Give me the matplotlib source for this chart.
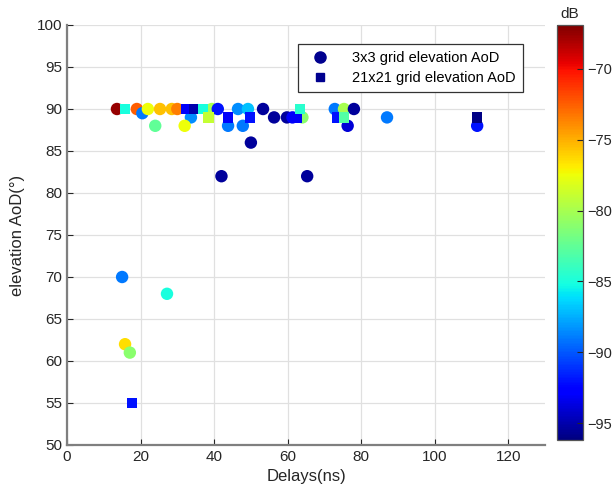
import matplotlib
matplotlib.use('Agg')
import matplotlib.pyplot as plt
from matplotlib.lines import Line2D

plt.rcParams['font.family'] = ['Liberation Sans', 'DejaVu Sans']
plt.rcParams['font.size'] = 11

# 3x3 grid elevation AoD (circles): delay (ns), elevation (deg), power (dB)
circle_x = [13.6, 19.0, 20.5, 22.0, 25.3, 28.5, 30.0, 33.7, 32.0, 24.0,
            39.4, 41.0, 43.8, 46.5, 49.2, 47.8, 53.3, 56.3, 59.8, 61.3,
            64.0, 42.0, 50.0, 65.3, 72.8, 75.3, 78.0, 76.3, 87.0, 111.5,
            15.0, 27.2, 15.8, 17.1]
circle_y = [90, 90, 89.5, 90, 90, 90, 90, 89, 88, 88,
            90, 90, 88, 90, 90, 88, 90, 89, 89, 89,
            89, 82, 86, 82, 90, 90, 90, 88, 89, 88,
            70, 68, 62, 61]
circle_db = [-67.5, -72.5, -89, -77.5, -75.5, -75.5, -73.5, -88.5, -77.5, -82.5,
             -80, -92, -89, -88.5, -87, -89, -95.5, -95.5, -95.5, -93,
             -81, -95.5, -95.5, -95.5, -89, -80, -95.5, -94, -89, -92,
             -89, -85, -76.5, -81]

# 21x21 grid elevation AoD (squares)
square_x = [15.8, 32.5, 34.6, 37.0, 38.5, 43.8, 49.7, 62.5, 63.3, 73.4,
            75.3, 111.5, 17.7]
square_y = [90, 90, 90, 90, 89, 89, 89, 89, 90, 89,
            89, 89, 55]
square_db = [-85, -93, -95, -85, -79, -93, -92, -93, -84.5, -92,
             -83, -96, -92]

vmin, vmax = -96.2, -66.9

fig = plt.figure(figsize=(6.14, 5.0), dpi=100)
ax = fig.add_axes([0.109, 0.11, 0.779, 0.84])
cax = fig.add_axes([0.907, 0.12, 0.042, 0.83])

sc = ax.scatter(circle_x, circle_y, c=circle_db, cmap='jet', vmin=vmin, vmax=vmax,
                marker='o', s=80, linewidths=0, zorder=3)
ax.scatter(square_x, square_y, c=square_db, cmap='jet', vmin=vmin, vmax=vmax,
           marker='s', s=55, linewidths=0, zorder=4)

ax.set_xlim(0, 130)
ax.set_ylim(50, 100)
ax.set_xticks(range(0, 121, 20))
ax.set_yticks(range(50, 101, 5))
ax.grid(True, color='#e0e0e0', linewidth=0.9)
ax.set_axisbelow(True)
for side in ['top', 'right']:
    ax.spines[side].set_visible(False)
for side in ['left', 'bottom']:
    ax.spines[side].set_color('#7f7f7f')
    ax.spines[side].set_linewidth(1.6)
ax.tick_params(direction='in', length=4, color='#262626', labelcolor='#262626',
               labelsize=11)
ax.set_xlabel('Delays(ns)', fontsize=12, color='#262626', labelpad=4)
ax.set_ylabel('elevation AoD(°)', fontsize=12, color='#262626', labelpad=8)

handles = [
    Line2D([], [], marker='o', color='#00008f', linestyle='none', markersize=8),
    Line2D([], [], marker='s', color='#00008f', linestyle='none', markersize=6),
]
leg = ax.legend(handles, ['3x3 grid elevation AoD', '21x21 grid elevation AoD'],
                loc='upper right', bbox_to_anchor=(0.969, 0.972), fancybox=False,
                framealpha=1, edgecolor='#333333', fontsize=10.5,
                handletextpad=1.2, borderpad=0.5, labelspacing=0.4)
leg.get_frame().set_linewidth(0.9)

cb = fig.colorbar(sc, cax=cax)
cb.set_ticks([-95, -90, -85, -80, -75, -70])
cb.ax.tick_params(direction='in', length=4, pad=3, labelsize=10.5, color='#262626',
                  labelcolor='#262626')
cb.outline.set_edgecolor('#555555')
cb.outline.set_linewidth(0.9)
cax.set_title('dB', fontsize=11, color='#262626', pad=5)

fig.savefig('out.png', dpi=100)
